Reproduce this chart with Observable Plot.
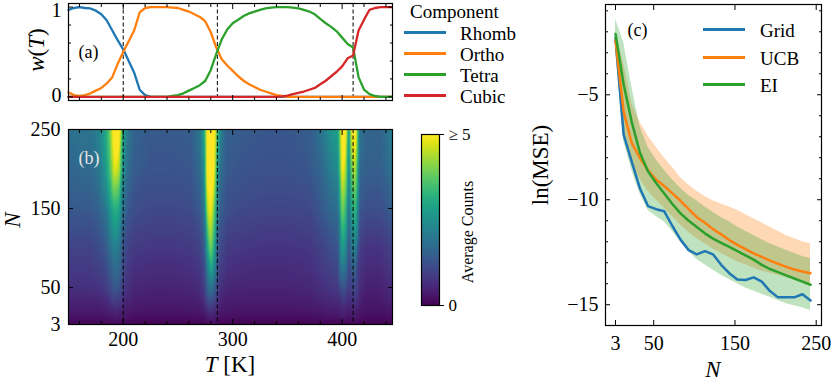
<!DOCTYPE html>
<html><head><meta charset="utf-8">
<script src="https://cdn.jsdelivr.net/npm/d3@7"></script>
<script src="https://cdn.jsdelivr.net/npm/@observablehq/plot@0.6"></script>
<style>
body{margin:0;background:#fff;}
#root{position:relative;width:831px;height:382px;overflow:hidden;font-family:"Liberation Serif",serif;color:#000;background:#fff;}
.t{position:absolute;white-space:nowrap;line-height:1;transform:translate(0,-50%);}
.c{transform:translate(-50%,-50%);}
.r{transform:translate(-50%,-50%) rotate(-90deg);}
.sw{position:absolute;height:3px;}
i{font-style:italic;}
</style></head><body><div id="root"></div><script>
// ---------- panel (a): component weights ----------
const T = [150,155,160,165,170,175,180,185,190,195,200,205,210,215,220,225,230,235,240,245,250,255,260,265,270,275,280,285,290,295,300,305,310,315,320,325,330,335,340,345,350,355,360,365,370,375,380,385,390,395,400,405,410,415,420,425,430,435,440,445];
const rhomb = [0.97,0.99,1.0,0.99,0.985,0.96,0.92,0.85,0.74,0.63,0.53,0.40,0.27,0.08,0.02,0,
  0,0,0,0,0,0,0,0,0,0,0,0,0,0,0,0,0,0,0,0,0,0,0,0,0,0,0,0,0,0,0,0,0,0,0,0,0,0,0,0,0,0,0,0];
const ortho = [0.05,0.02,0.01,0.02,0.04,0.07,0.10,0.15,0.22,0.37,0.50,0.62,0.74,0.94,0.99,1,1,1,1,0.995,
  0.99,0.97,0.95,0.92,0.89,0.84,0.72,0.55,0.42,0.35,0.29,0.23,0.18,0.14,0.11,0.08,0.06,0.04,0.02,0.01,
  0,0,0,0,0,0,0,0,0,0,0,0,0,0,0,0,0,0,0,0];
const tetra = [0,0,0,0,0,0,0,0,0,0,0,0,0,0,0,0,0,0,
  0,0.01,0.02,0.04,0.07,0.10,0.13,0.18,0.30,0.48,
  0.64,0.75,0.82,0.86,0.90,0.93,0.95,0.97,0.985,0.995,
  1,1,1,0.995,0.985,0.97,0.95,0.92,0.87,0.82,0.78,0.73,0.66,0.59,0.55,0.22,0.08,0.03,0.01,0,0,0];
const cubic = [0,0,0,0,0,0,0,0,0,0,0,0,0,0,0,0,0,0,0,0,0,0,0,0,0,0,0,0,0,0,0,0,0,0,0,0,0,0,0,
  0.005,0.015,0.03,0.045,0.06,0.08,0.10,0.14,0.18,0.23,0.28,0.34,0.43,0.46,0.74,0.86,0.97,0.99,1,1,1];
const components = ["Rhomb","Ortho","Tetra","Cubic"];
const compColors = ["#1f77b4","#ff7f0e","#2ca02c","#d62728"];
const boundaries = [200, 286, 410];

// ---------- panel (b): average counts heatmap ----------
const heatT = [150,160,170,178,184,188,192,196,200,204,210,225,245,262,270,274,277,280,283,286,289,295,310,330,350,370,382,390,396,400,403,406,409,412,416,422,435,446];
const heatN = [3,20,50,100,150,200,250];
const counts3 = [0.08,0.08,0.08,0.08,0.08,0.09,0.1,0.1,0.08,0.08,0.06,0.05,0.05,0.05,0.06,0.07,0.1,0.12,0.1,0.08,0.06,0.05,0.05,0.05,0.05,0.05,0.06,0.07,0.07,0.08,0.08,0.07,0.08,0.08,0.06,0.05,0.05,0.06];
const counts20 = [0.35,0.35,0.35,0.35,0.4,0.45,0.55,0.5,0.4,0.35,0.3,0.28,0.28,0.3,0.32,0.4,0.6,0.7,0.6,0.45,0.35,0.3,0.28,0.28,0.28,0.3,0.35,0.4,0.4,0.5,0.48,0.4,0.45,0.45,0.32,0.25,0.25,0.32];
const counts50 = [0.7,0.7,0.7,0.75,0.9,1.1,1.4,1.3,0.9,0.7,0.55,0.5,0.5,0.55,0.65,0.9,1.6,2.0,1.6,1.0,0.7,0.55,0.5,0.5,0.5,0.55,0.7,0.8,0.85,1.3,1.2,0.9,1.0,1.1,0.65,0.45,0.45,0.65];
const counts100 = [1.0,1.0,1.0,1.15,1.4,1.8,2.2,2.0,1.3,1.0,0.85,0.8,0.8,0.85,1.0,1.4,3.0,4.0,3.0,1.5,1.1,0.85,0.8,0.75,0.75,0.8,1.0,1.2,1.3,2.8,2.4,1.3,2.0,2.2,0.9,0.75,0.75,1.0];
const counts150 = [1.35,1.4,1.4,1.6,2.0,2.6,3.2,3.0,1.9,1.4,1.2,1.1,1.1,1.15,1.4,2.0,4.5,5.0,4.0,2.2,1.5,1.2,1.1,1.05,1.05,1.1,1.4,1.7,1.8,4.0,3.5,1.8,3.0,3.4,1.4,1.2,1.2,1.5];
const counts200 = [1.6,1.7,1.7,2.0,2.7,3.6,4.8,4.5,2.5,1.8,1.45,1.3,1.3,1.35,1.7,2.5,5.5,5.5,5.0,2.8,1.8,1.4,1.3,1.25,1.25,1.35,1.7,2.2,2.4,5.0,4.5,2.3,4.0,4.5,1.7,1.5,1.5,1.9];
const counts250 = [1.8,1.9,1.9,2.3,3.0,4.0,5.5,5.5,3.0,2.0,1.6,1.4,1.4,1.45,2.0,3.0,5.5,5.5,5.5,3.5,2.2,1.5,1.4,1.35,1.35,1.45,2.0,2.6,2.8,5.5,5.5,2.7,5.0,5.5,1.9,1.6,1.6,2.2];
const countRows = [counts3,counts20,counts50,counts100,counts150,counts200,counts250];

// ---------- panel (c): ln(MSE) vs N ----------
const N = [3,13,23,33,43,53,63,73,83,93,103,113,123,133,143,153,163,173,183,193,203,213,223,233,243];
const gridMSE = [-2.3,-6.9,-8.2,-9.45,-10.3,-10.45,-10.55,-11.25,-11.9,-12.4,-12.6,-12.45,-12.6,-13.1,-13.5,-13.8,-13.82,-13.7,-13.9,-14.35,-14.65,-14.65,-14.65,-14.5,-14.8];
const ucbMSE = [-2.4,-5.8,-7.3,-8.0,-8.6,-9.05,-9.35,-9.7,-10.05,-10.45,-10.83,-11.1,-11.4,-11.65,-11.92,-12.15,-12.35,-12.55,-12.72,-12.9,-13.05,-13.2,-13.32,-13.42,-13.5];
const eiMSE = [-2.1,-4.5,-6.3,-7.75,-8.65,-9.2,-9.7,-10.2,-10.65,-11.0,-11.3,-11.6,-11.85,-12.05,-12.25,-12.45,-12.65,-12.85,-13.1,-13.3,-13.45,-13.6,-13.75,-13.9,-14.05];
const ucbLo = [-2.8,-7.0,-8.2,-9.0,-9.6,-10.0,-10.4,-10.8,-11.2,-11.55,-11.85,-12.1,-12.35,-12.55,-12.75,-12.95,-13.1,-13.25,-13.4,-13.5,-13.6,-13.7,-13.8,-13.9,-14.0];
const ucbHi = [-2.0,-3.5,-5.4,-6.3,-6.95,-7.5,-8.0,-8.45,-8.95,-9.3,-9.6,-9.85,-10.05,-10.2,-10.35,-10.5,-10.7,-10.9,-11.1,-11.3,-11.5,-11.7,-11.85,-12.0,-12.1];
const eiLo = [-2.8,-7.2,-8.6,-9.7,-10.5,-10.8,-11.05,-11.5,-12.0,-12.45,-12.85,-13.1,-13.35,-13.6,-13.8,-14.0,-14.2,-14.35,-14.5,-14.65,-14.8,-14.95,-15.05,-15.15,-15.27];
const eiHi = [-1.4,-2.5,-4.6,-6.5,-7.5,-8.1,-8.6,-9.05,-9.45,-9.8,-10.05,-10.35,-10.6,-10.85,-11.05,-11.3,-11.5,-11.7,-11.9,-12.1,-12.25,-12.4,-12.55,-12.7,-12.8];
const methods = ["Grid","UCB","EI"];
const methodColors = ["#1f77b4","#ff7f0e","#2ca02c"];

// ---------- helpers ----------
const root = document.getElementById("root");
function put(el, left, top){ el.style.position="absolute"; el.style.left=left+"px"; el.style.top=top+"px"; root.appendChild(el); return el; }
function txt(html, x, y, size, cls="t", extra={}){ const d=document.createElement("div"); d.className="t "+(cls==="t"?"":cls); d.innerHTML=html; d.style.fontSize=size+"px"; Object.assign(d.style, extra); return put(d,x,y); }
function swatch(color, x, y, w){ const d=document.createElement("div"); d.className="sw"; d.style.background=color; d.style.width=w+"px"; return put(d,x,y-1.5); }
const minus = d => d < 0 ? "\u2212" + (-d) : String(d);
const plain = d => String(d);
const blank = () => "";
const STYLE = {fontFamily:"Liberation Serif", fontSize:"20px", background:"transparent", color:"black", overflow:"visible"};
function ticks({xMaj, xMin=[], yMaj, yMin=[], xFmt=null, yFmt=null, xPad=12, yPad=12}){
  const m = [];
  m.push(Plot.axisX({anchor:"bottom", ticks:xMaj, tickSize:-5, tickPadding:xPad, tickFormat: xFmt ?? blank, label:null}));
  m.push(Plot.axisX({anchor:"top", ticks:xMaj, tickSize:-5, tickFormat:blank, label:null}));
  if (xMin.length){
    m.push(Plot.axisX({anchor:"bottom", ticks:xMin, tickSize:-3, tickFormat:blank, label:null}));
    m.push(Plot.axisX({anchor:"top", ticks:xMin, tickSize:-3, tickFormat:blank, label:null}));
  }
  m.push(Plot.axisY({anchor:"left", ticks:yMaj, tickSize:-5, tickPadding:yPad, tickFormat: yFmt ?? blank, label:null}));
  m.push(Plot.axisY({anchor:"right", ticks:yMaj, tickSize:-5, tickFormat:blank, label:null}));
  if (yMin.length){
    m.push(Plot.axisY({anchor:"left", ticks:yMin, tickSize:-3, tickFormat:blank, label:null}));
    m.push(Plot.axisY({anchor:"right", ticks:yMin, tickSize:-3, tickFormat:blank, label:null}));
  }
  return m;
}
const Tmajor = [200,300,400];
const Tminor = [160,180,220,240,260,280,320,340,360,380,420,440];
const dash = "4,2.5";

// ---------- panel (a) ----------
const series = [rhomb, ortho, tetra, cubic];
const wData = components.flatMap((c,j) => T.map((t,i) => ({T:t, w:series[j][i], comp:c})));
const plotA = Plot.plot({
  width:400, height:104, marginLeft:68, marginRight:8, marginTop:3, marginBottom:4,
  style: STYLE,
  x:{domain:[150,446], label:null}, y:{domain:[-0.04,1.04], label:null},
  color:{domain:components, range:compColors},
  marks:[
    Plot.ruleX(boundaries, {stroke:"black", strokeWidth:1, strokeDasharray:dash}),
    Plot.line(wData, {x:"T", y:"w", stroke:"comp", z:"comp", strokeWidth:2.3}),
    Plot.text(["(a)"], {frameAnchor:"left", dx:10, textAnchor:"start", fontSize:18}),
    Plot.frame({stroke:"black", strokeWidth:1.2}),
    ...ticks({xMaj:Tmajor, xMin:Tminor, yMaj:[0,1], yMin:[0.2,0.4,0.6,0.8]}),
    Plot.axisY({anchor:"left", ticks:[1], tickSize:0, tickPadding:7, dy:4, tickFormat:plain, label:null}),
    Plot.axisY({anchor:"left", ticks:[0], tickSize:0, tickPadding:7, dy:-1, tickFormat:plain, label:null})
  ]
});
put(plotA, 0, 0);

// ---------- panel (b) ----------
const heat = countRows.flatMap((row,k) => heatT.map((t,i) => ({T:t, N:heatN[k], v:row[i]})));
const colorScale = {type:"linear", scheme:"viridis", domain:[0,5], clamp:true};
const plotB = Plot.plot({
  width:400, height:262, marginLeft:68, marginRight:8, marginTop:9, marginBottom:58,
  style: STYLE,
  x:{domain:[150,446], label:null}, y:{domain:[3,250], label:null},
  color: colorScale,
  marks:[
    Plot.raster(heat, {x:"T", y:"N", fill:"v", interpolate:"barycentric", x1:150, x2:446, y1:3, y2:250}),
    Plot.ruleX(boundaries, {stroke:"black", strokeWidth:1, strokeDasharray:dash}),
    Plot.text(["(b)"], {frameAnchor:"top-left", dx:10, dy:29, textAnchor:"start", lineAnchor:"middle", fontSize:18, fill:"#e4e4e4"}),
    Plot.frame({stroke:"black", strokeWidth:1.2}),
    ...ticks({xMaj:Tmajor, xMin:Tminor, yMaj:[3,50,150,250], xFmt:plain, yFmt:plain, xPad:12, yPad:13})
  ]
});
put(plotB, 0, 120);

// colorbar
const plotCB = Plot.plot({
  width:80, height:200, marginLeft:21, marginRight:41, marginTop:14, marginBottom:15,
  style: {...STYLE, fontSize:"17px"},
  x:{domain:[0,1], axis:null}, y:{domain:[0,5], label:null},
  color: colorScale,
  marks:[
    Plot.raster({fill:(x,y)=>y, x1:0, x2:1, y1:0, y2:5}),
    Plot.frame({stroke:"black", strokeWidth:1.2}),
    Plot.axisY({anchor:"right", ticks:[0,5], tickSize:4, tickPadding:5, tickFormat:d => d===5 ? "\u2265 5" : "0", label:null})
  ]
});
put(plotCB, 400, 120);

// ---------- panel (c) ----------
const mse = [
  ...N.map((n,i)=>({N:n, v:gridMSE[i], m:"Grid"})),
  ...N.map((n,i)=>({N:n, v:ucbMSE[i], m:"UCB"})),
  ...N.map((n,i)=>({N:n, v:eiMSE[i], m:"EI"}))
];
const bands = [
  ...N.map((n,i)=>({N:n, lo:ucbLo[i], hi:ucbHi[i], m:"UCB"})),
  ...N.map((n,i)=>({N:n, lo:eiLo[i], hi:eiHi[i], m:"EI"}))
];
const plotC = Plot.plot({
  width:291, height:382, marginLeft:65, marginRight:10, marginTop:4, marginBottom:57,
  style: STYLE,
  x:{domain:[-9.3,256.5], label:null}, y:{domain:[-15.99,-0.7], label:null},
  color:{domain:methods, range:methodColors},
  marks:[
    Plot.areaY(bands, {x:"N", y1:"lo", y2:"hi", fill:"m", z:"m", fillOpacity:0.3}),
    Plot.line(mse, {x:"N", y:"v", stroke:"m", z:"m", strokeWidth:2.5}),
    Plot.text(["(c)"], {frameAnchor:"top-left", dx:22, dy:26, textAnchor:"start", lineAnchor:"middle", fontSize:18}),
    Plot.frame({stroke:"black", strokeWidth:1.2}),
    ...ticks({xMaj:[3,50,150,250], yMaj:[-5,-10,-15], yMin:[-1,-2,-3,-4,-6,-7,-8,-9,-11,-12,-13,-14], xFmt:plain, yFmt:minus, xPad:15, yPad:12})
  ]
});
put(plotC, 540, 0);

// ---------- text labels & legends ----------
txt("<i>w</i>(<i>T</i>)", 36, 50, 23, "r");
txt("<i>N</i>", 12, 220, 23, "r");
txt("<i>T</i> [K]", 230, 364, 23, "c");
txt("Average Counts", 468, 232, 16, "r");
txt("ln(MSE)", 540, 165, 23, "r");
txt("<i>N</i>", 713, 369, 23, "c");

txt("Component", 410, 11, 19);
const legAy = [32, 53, 74, 95];
components.forEach((c,i) => { swatch(compColors[i], 404, legAy[i], 42); txt(c, 460, legAy[i]+1, 19); });
const legCy = [29, 57, 84];
methods.forEach((m,i) => { swatch(methodColors[i], 703, legCy[i], 42); txt(m, 760, legCy[i]+1, 19); });
</script></body></html>
